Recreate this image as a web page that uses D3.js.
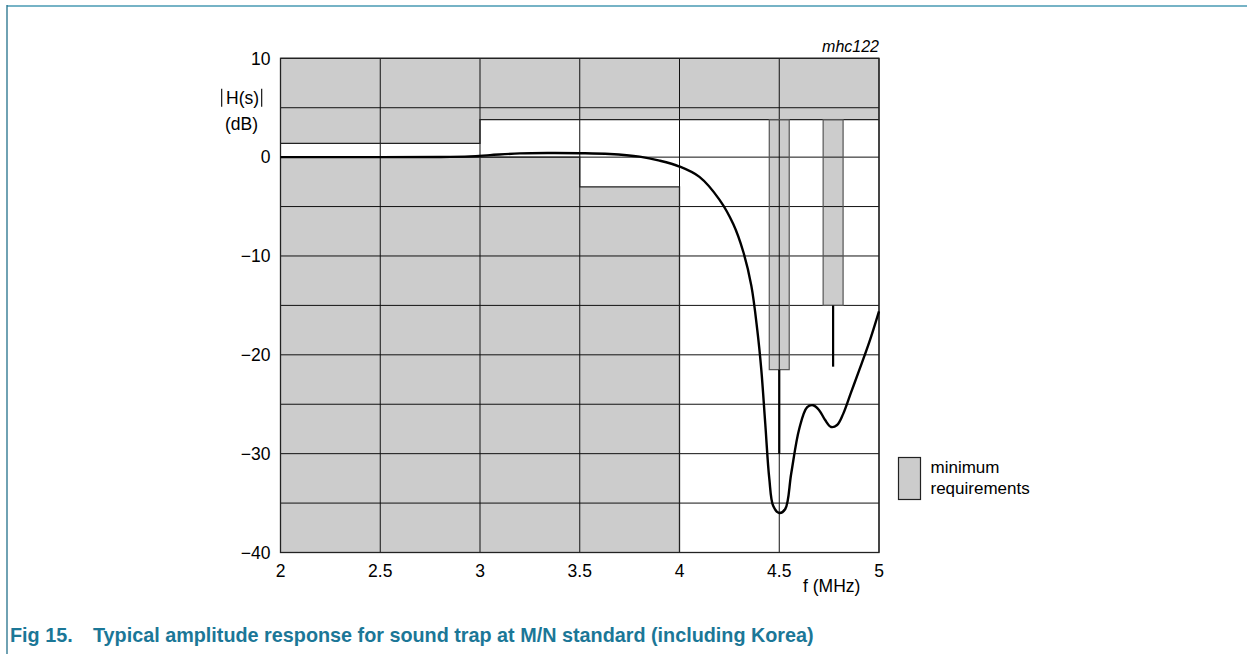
<!DOCTYPE html>
<html>
<head>
<meta charset="utf-8">
<script src="https://cdn.jsdelivr.net/npm/d3@7"></script>
<style>
  body { margin: 0; background: #fff; }
  svg { display: block; font-family: "Liberation Sans", Arial, sans-serif; }
</style>
</head>
<body>
<div id="chart"></div>
<script>
// ---- data ----
const xTicks = [2, 2.5, 3, 3.5, 4, 4.5, 5];
const xTickLabels = ["2", "2.5", "3", "3.5", "4", "4.5", "5"];
const yTicks = [10, 0, -10, -20, -30, -40];
const yTickLabels = ["10", "0", "\u221210", "\u221220", "\u221230", "\u221240"];
const yGrid = [10, 5, 0, -5, -10, -15, -20, -25, -30, -35, -40];

// upper limit mask: [fStart, fEnd, dB lower edge]
const upperMask = [[2, 3, 1.4], [3, 5, 3.8]];
// lower limit mask: [fStart, fEnd, dB upper edge]
const lowerMask = [[2, 3.5, 0], [3.5, 4, -3]];
// trap requirements: [fStart, fEnd, dB bottom, centre f, line end dB]
const traps = [[4.45, 4.55, -21.5, 4.5, -30], [4.72, 4.82, -15, 4.77, -21.2]];

// typical response curve
const freq = [2, 2.5, 2.8, 2.95, 3.05, 3.2, 3.35, 3.5, 3.65, 3.8, 3.9, 4.0, 4.1, 4.2, 4.27, 4.32, 4.36, 4.39, 4.41, 4.43, 4.45, 4.47, 4.5, 4.53, 4.56, 4.6, 4.64, 4.67, 4.7, 4.73, 4.76, 4.79, 4.82, 4.86, 4.9, 4.95, 5.0];
const gain = [0, 0, 0.02, 0.08, 0.2, 0.38, 0.42, 0.4, 0.32, 0.05, -0.35, -0.95, -2.0, -4.3, -6.8, -9.6, -13, -17.5, -21.5, -27, -32.5, -35.3, -36.0, -35.6, -32, -27.5, -25.3, -25.1, -25.6, -26.6, -27.3, -27.1, -26.0, -23.8, -21.6, -18.8, -15.6];

// ---- layout ----
const width = 1247, height = 654;
const margin = { left: 280.5, right: 368, top: 58.3, bottom: 101.5 };
const innerWidth = width - margin.left - margin.right;
const innerHeight = height - margin.top - margin.bottom;

const xScale = d3.scaleLinear().domain([2, 5]).range([0, innerWidth]);
const yScale = d3.scaleLinear().domain([-40, 10]).range([innerHeight, 0]);

const svg = d3.select("#chart")
  .append("svg")
    .attr("width", width)
    .attr("height", height)
    .attr("viewBox", `0 0 ${width} ${height}`);

// page frame
svg.append("line")
  .attr("x1", 7).attr("x2", width).attr("y1", 6).attr("y2", 6)
  .attr("stroke", "#76b3c6").attr("stroke-width", 2);
svg.append("line")
  .attr("x1", 7).attr("x2", 7).attr("y1", 5).attr("y2", height)
  .attr("stroke", "#22708a").attr("stroke-width", 1.3);

const g = svg.append("g")
  .attr("transform", `translate(${margin.left}, ${margin.top})`);

const fill = "#cccccc";
const edge = "#555";

// masks
g.selectAll("rect.upper")
  .data(upperMask)
  .join("rect")
    .attr("class", "upper")
    .attr("x", d => xScale(d[0]))
    .attr("width", d => xScale(d[1]) - xScale(d[0]))
    .attr("y", yScale(10))
    .attr("height", d => yScale(d[2]) - yScale(10))
    .attr("fill", fill);

g.selectAll("rect.lower")
  .data(lowerMask)
  .join("rect")
    .attr("class", "lower")
    .attr("x", d => xScale(d[0]))
    .attr("width", d => xScale(d[1]) - xScale(d[0]))
    .attr("y", d => yScale(d[2]))
    .attr("height", d => yScale(-40) - yScale(d[2]))
    .attr("fill", fill);

// trap bars
g.selectAll("rect.trap")
  .data(traps)
  .join("rect")
    .attr("class", "trap")
    .attr("x", d => xScale(d[0]))
    .attr("width", d => xScale(d[1]) - xScale(d[0]))
    .attr("y", yScale(3.8))
    .attr("height", d => yScale(d[2]) - yScale(3.8))
    .attr("fill", fill);

// grid
g.selectAll("line.vgrid")
  .data(xTicks)
  .join("line")
    .attr("class", "vgrid")
    .attr("x1", d => xScale(d)).attr("x2", d => xScale(d))
    .attr("y1", 0).attr("y2", innerHeight)
    .attr("stroke", "#111").attr("stroke-width", 1);

g.selectAll("line.hgrid")
  .data(yGrid)
  .join("line")
    .attr("class", "hgrid")
    .attr("x1", 0).attr("x2", innerWidth)
    .attr("y1", d => yScale(d)).attr("y2", d => yScale(d))
    .attr("stroke", "#111").attr("stroke-width", 1);

// mask outlines
const maskLine = d3.line().x(d => xScale(d[0])).y(d => yScale(d[1]));
g.append("path")
  .attr("d", maskLine([[2, 1.4], [3, 1.4], [3, 3.8], [5, 3.8]]))
  .attr("fill", "none").attr("stroke", "#222").attr("stroke-width", 1.3);
g.append("path")
  .attr("d", maskLine([[2, 0], [3.5, 0], [3.5, -3], [4, -3], [4, -40]]))
  .attr("fill", "none").attr("stroke", "#222").attr("stroke-width", 1.3);

g.selectAll("rect.trapEdge")
  .data(traps)
  .join("rect")
    .attr("class", "trapEdge")
    .attr("x", d => xScale(d[0]))
    .attr("width", d => xScale(d[1]) - xScale(d[0]))
    .attr("y", yScale(3.8))
    .attr("height", d => yScale(d[2]) - yScale(3.8))
    .attr("fill", "none")
    .attr("stroke", edge).attr("stroke-width", 1.2);

g.selectAll("line.trapLine")
  .data(traps)
  .join("line")
    .attr("class", "trapLine")
    .attr("x1", d => xScale(d[3])).attr("x2", d => xScale(d[3]))
    .attr("y1", d => yScale(d[2])).attr("y2", d => yScale(d[4]))
    .attr("stroke", "#000").attr("stroke-width", 2.2);

// frame
g.append("rect")
  .attr("width", innerWidth).attr("height", innerHeight)
  .attr("fill", "none").attr("stroke", "#222").attr("stroke-width", 1.3);

// response curve
const curve = d3.line()
  .x(d => xScale(d[0]))
  .y(d => yScale(d[1]))
  .curve(d3.curveCatmullRom.alpha(0.5));
g.append("path")
  .attr("d", curve(freq.map((f, i) => [f, gain[i]])))
  .attr("fill", "none")
  .attr("stroke", "#000")
  .attr("stroke-width", 2.4);

// axis labels
g.selectAll("text.xtick")
  .data(xTicks)
  .join("text")
    .attr("class", "xtick")
    .attr("x", d => xScale(d))
    .attr("y", innerHeight + 24.5)
    .attr("text-anchor", "middle")
    .style("font-size", "17.5px")
    .text((d, i) => xTickLabels[i]);

g.selectAll("text.ytick")
  .data(yTicks)
  .join("text")
    .attr("class", "ytick")
    .attr("x", -10)
    .attr("y", d => yScale(d) + 6.3)
    .attr("text-anchor", "end")
    .style("font-size", "17.5px")
    .text((d, i) => yTickLabels[i]);

g.append("text")
  .attr("x", 522.5).attr("y", innerHeight + 39.5)
  .style("font-size", "17.5px")
  .text("f (MHz)");

// y title |H(s)| (dB)
g.append("text")
  .attr("x", -54.5).attr("y", 45.7)
  .style("font-size", "17.5px")
  .text("H(s)");
g.selectAll("line.absBar")
  .data([-58.8, -18.8])
  .join("line")
    .attr("class", "absBar")
    .attr("x1", d => d).attr("x2", d => d)
    .attr("y1", 30.5).attr("y2", 48.5)
    .attr("stroke", "#000").attr("stroke-width", 1.1);
g.append("text")
  .attr("x", -39).attr("y", 71.4)
  .attr("text-anchor", "middle")
  .style("font-size", "17.5px")
  .text("(dB)");

g.append("text")
  .attr("x", innerWidth).attr("y", -6.6)
  .attr("text-anchor", "end")
  .style("font-size", "16px")
  .style("font-style", "italic")
  .text("mhc122");

// legend
const legend = svg.append("g")
  .attr("transform", "translate(898.5, 457.5)");
legend.append("rect")
  .attr("width", 22).attr("height", 42)
  .attr("fill", fill)
  .attr("stroke", "#222").attr("stroke-width", 1.2);
legend.append("text")
  .attr("x", 32).attr("y", 15.2)
  .style("font-size", "17px")
  .text("minimum");
legend.append("text")
  .attr("x", 32).attr("y", 36.5)
  .style("font-size", "17px")
  .text("requirements");

// caption
const caption = svg.append("g")
  .style("font-size", "19.8px")
  .style("font-weight", "bold")
  .style("fill", "#1b7797");
caption.append("text")
  .attr("x", 10).attr("y", 642)
  .text("Fig 15.");
caption.append("text")
  .attr("x", 93).attr("y", 642)
  .text("Typical amplitude response for sound trap at M/N standard (including Korea)");
</script>
</body>
</html>
